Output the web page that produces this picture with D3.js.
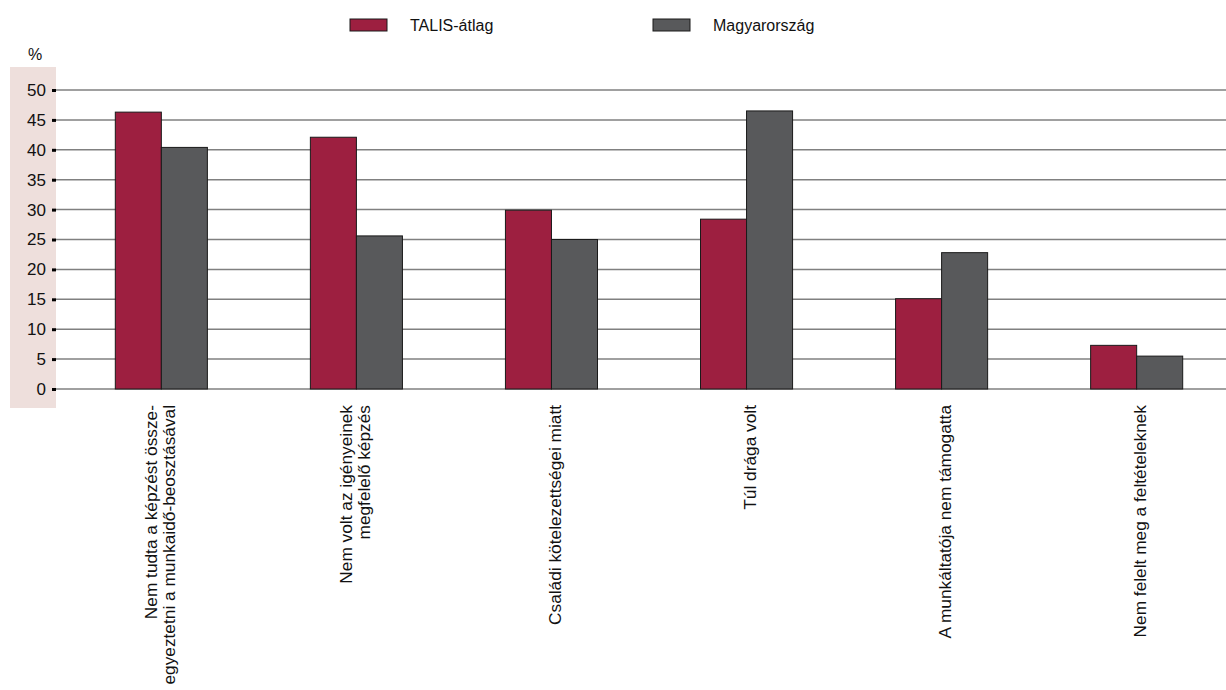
<!DOCTYPE html>
<html>
<head>
<meta charset="utf-8">
<script src="https://cdn.jsdelivr.net/npm/d3@7/dist/d3.min.js"></script>
<style>
  body { margin: 0; background: #fff; }
  svg { display: block; font-family: "Liberation Sans", Arial, sans-serif; }
</style>
</head>
<body>
<script>
// ___________ data
var categories = [
  ["Nem tudta a képzést össze-", "egyeztetni a munkaidő-beosztásával"],
  ["Nem volt az igényeinek", "megfelelő képzés"],
  ["Családi kötelezettségei miatt"],
  ["Túl drága volt"],
  ["A munkáltatója nem támogatta"],
  ["Nem felelt meg a feltételeknek"]
]
var seriesNames = ["TALIS-átlag", "Magyarország"]
var talisValues = [46.3, 42.1, 29.9, 28.4, 15.1, 7.3]
var huValues = [40.4, 25.6, 25.0, 46.5, 22.8, 5.5]
var yTicks = [0, 5, 10, 15, 20, 25, 30, 35, 40, 45, 50]
var colors = ["#9d1f40", "#58595b"]

var chartW = 1226, chartH = 690
var plotLeft = 56, plotRight = 1226, plotTop = 90, plotBottom = 389

var svg = d3.select("body").append("svg")
  .attr("width", chartW)
  .attr("height", chartH)

// pink band behind the y axis
svg.append("rect")
  .attr("x", 10).attr("y", 67)
  .attr("width", plotLeft - 10).attr("height", 341)
  .style("fill", "#eedfdc")

var x0 = d3.scaleBand()
  .domain(d3.range(categories.length))
  .range([plotLeft, plotRight])
  .paddingInner(0.528)
  .paddingOuter(0.263)
  .align(0.578)

var x1 = d3.scaleBand()
  .domain([0, 1])
  .range([0, x0.bandwidth()])

var y = d3.scaleLinear()
  .domain([0, 50])
  .range([plotBottom, plotTop])

// gridlines
svg.append("g").selectAll("line")
  .data(yTicks)
  .enter().append("line")
    .attr("x1", plotLeft).attr("x2", plotRight)
    .attr("y1", function (d) { return y(d) })
    .attr("y2", function (d) { return y(d) })
    .style("stroke", "#808080")
    .style("stroke-width", 1.5)

// y axis
var yAxis = svg.append("g")
  .attr("transform", "translate(" + plotLeft + ",0)")
  .call(d3.axisLeft(y).tickValues(yTicks).tickSize(4).tickPadding(6))
yAxis.select(".domain").remove()
yAxis.selectAll(".tick line").style("stroke", "#000").style("stroke-width", 3)
yAxis.selectAll(".tick text")
  .style("font-family", "'Liberation Sans', Arial, sans-serif")
  .style("font-size", "17px")
  .style("fill", "#111")

svg.append("text")
  .attr("x", 35).attr("y", 60)
  .attr("text-anchor", "middle")
  .style("font-size", "16px")
  .style("fill", "#111")
  .text("%")

// bars
var rows = categories.map(function (c, i) { return [talisValues[i], huValues[i]] })

var groups = svg.append("g").selectAll("g")
  .data(rows)
  .enter().append("g")
    .attr("transform", function (d, i) { return "translate(" + x0(i) + ",0)" })

groups.selectAll("rect")
  .data(function (d) { return d })
  .enter().append("rect")
    .attr("x", function (d, j) { return x1(j) })
    .attr("y", function (d) { return y(d) })
    .attr("width", x1.bandwidth())
    .attr("height", function (d) { return y(0) - y(d) })
    .style("fill", function (d, j) { return colors[j] })
    .style("stroke", "#1a1a1a")
    .style("stroke-width", 1)

// category labels, rotated
var labels = svg.append("g").selectAll("text")
  .data(categories)
  .enter().append("text")
    .attr("transform", function (d, i) {
      var cx = x0(i) + x0.bandwidth() / 2 + (d.length > 1 ? -1 : 3)
      return "translate(" + cx + "," + 405 + ") rotate(-90)"
    })
    .attr("text-anchor", "end")
    .style("font-size", "17.3px")
    .style("fill", "#111")

labels.selectAll("tspan")
  .data(function (d) { return d })
  .enter().append("tspan")
    .attr("x", 0)
    .attr("y", function (d, j, a) {
      var n = a.length
      return (j - (n - 1) / 2) * 18
    })
    .attr("dy", "0.35em")
    .text(function (d) { return d })

// legend
var legendX = [350, 653]
var legend = svg.append("g").selectAll("g")
  .data(seriesNames)
  .enter().append("g")
    .attr("transform", function (d, i) { return "translate(" + legendX[i] + ",19)" })

legend.append("rect")
  .attr("width", 37).attr("height", 12)
  .style("fill", function (d, i) { return colors[i] })
  .style("stroke", "#1a1a1a")
  .style("stroke-width", 1)

legend.append("text")
  .attr("x", 60).attr("y", 6)
  .attr("dy", "0.35em")
  .style("font-size", "16px")
  .style("fill", "#111")
  .text(function (d) { return d })
</script>
</body>
</html>
